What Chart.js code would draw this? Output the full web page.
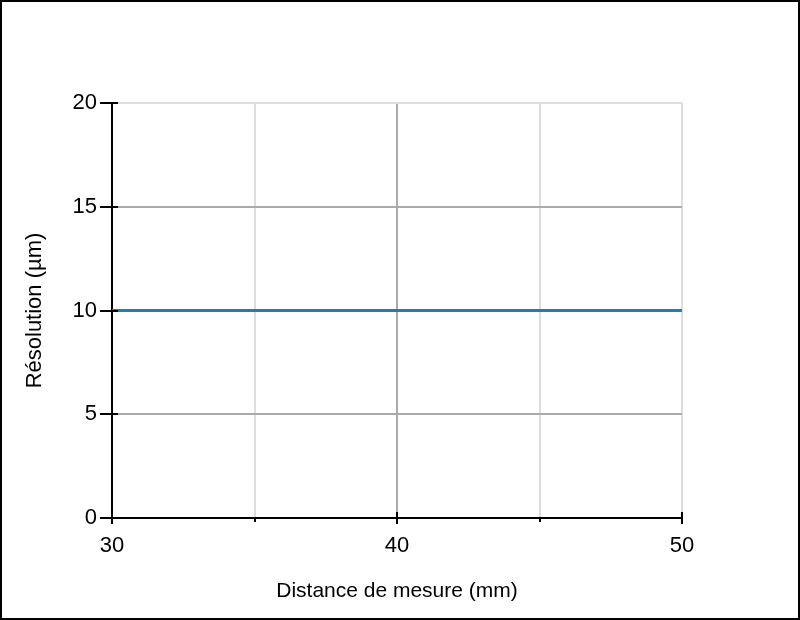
<!DOCTYPE html>
<html>
<head>
<meta charset="utf-8">
<script src="https://cdn.jsdelivr.net/npm/chart.js@4.4.1/dist/chart.umd.min.js"></script>
<style>
  html, body { margin: 0; padding: 0; background: #fff; }
  #wrap { width: 800px; height: 620px; position: relative; }
</style>
</head>
<body>
<div id="wrap"><canvas id="chart" width="800" height="620"></canvas></div>
<script>
// measurement distance (mm) and resolution (µm)
const distance = [30, 50];
const resolution = [10, 10];
const xTickLabels = [30, 40, 50];
const yTickLabels = [0, 5, 10, 15, 20];

const FONT = "'Liberation Sans', Arial, sans-serif";

// ticks crossing the axes + outer frame
const axisTicks = {
    id: 'axisTicks',
    afterDraw(chart) {
        const ctx = chart.ctx;
        const x = chart.scales.x, y = chart.scales.y;
        ctx.save();
        ctx.strokeStyle = '#000';
        ctx.lineWidth = 2;
        ctx.beginPath();
        [30, 35, 40, 45, 50].forEach(v => {
            const px = Math.round(x.getPixelForValue(v));
            const major = xTickLabels.includes(v);
            ctx.moveTo(px, y.bottom - (major ? 6 : 0));
            ctx.lineTo(px, y.bottom + (major ? 6 : 4));
        });
        yTickLabels.forEach(v => {
            const py = Math.round(y.getPixelForValue(v));
            ctx.moveTo(x.left - 12, py);
            ctx.lineTo(x.left + 6, py);
        });
        ctx.stroke();
        ctx.lineWidth = 2;
        ctx.strokeRect(1, 1, chart.width - 2, chart.height - 2);
        ctx.restore();
    }
};

new Chart(document.getElementById('chart'), {
    type: 'line',
    data: {
        datasets: [{
            data: distance.map((d, i) => ({ x: d, y: resolution[i] })),
            borderColor: '#1880bf',
            borderWidth: 3,
            pointRadius: 0,
            fill: false
        }]
    },
    options: {
        responsive: false,
        animation: false,
        layout: { padding: { left: 22, top: 103, right: 118, bottom: 16 } },
        plugins: { legend: { display: false }, tooltip: { enabled: false } },
        scales: {
            x: {
                type: 'linear',
                min: 30, max: 50,
                afterFit: s => { s.height = 620 - 518 - 16; },
                border: { color: '#000', width: 2 },
                grid: {
                    drawTicks: false,
                    lineWidth: 2,
                    color: c => c.tick.value === 40 ? '#aaaaaa' : '#dddddd'
                },
                ticks: {
                    stepSize: 5,
                    padding: 15,
                    color: '#000',
                    font: { family: FONT, size: 22 },
                    callback: v => xTickLabels.includes(v) ? v : ''
                },
                title: {
                    display: true,
                    text: 'Distance de mesure (mm)',
                    color: '#000',
                    font: { family: FONT, size: 21 },
                    padding: 0
                }
            },
            y: {
                min: 0, max: 20,
                afterFit: s => { s.width = 112 - 22; },
                border: { color: '#000', width: 2 },
                grid: {
                    drawTicks: false,
                    lineWidth: 2,
                    color: c => c.tick.value === 20 ? '#dddddd' : '#aaaaaa'
                },
                ticks: {
                    stepSize: 5,
                    padding: 15,
                    color: '#000',
                    font: { family: FONT, size: 22 }
                },
                title: {
                    display: true,
                    text: 'Résolution (µm)',
                    color: '#000',
                    font: { family: FONT, size: 22 },
                    padding: 0
                }
            }
        }
    },
    plugins: [axisTicks]
});
</script>
</body>
</html>
